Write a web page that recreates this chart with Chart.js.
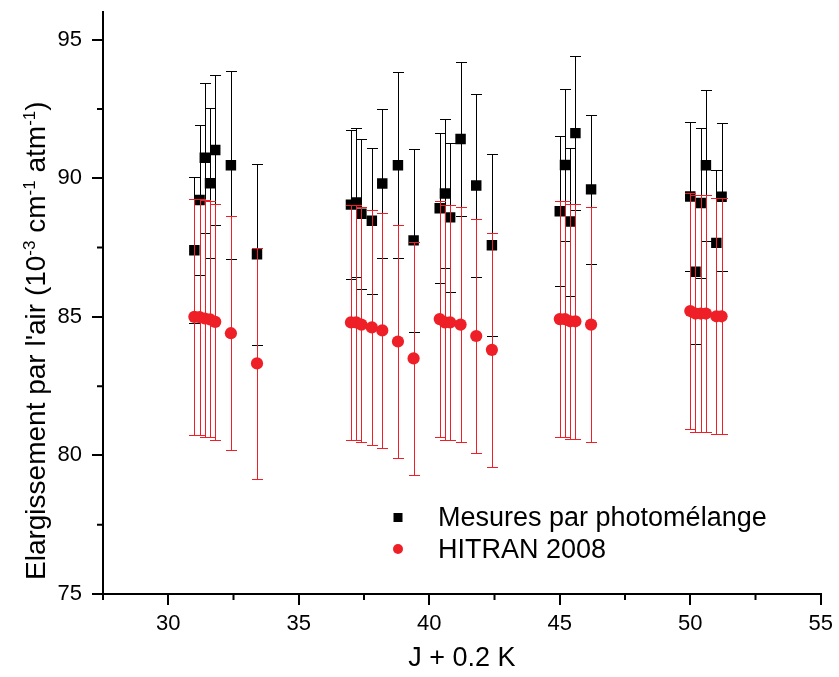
<!DOCTYPE html>
<html>
<head>
<meta charset="utf-8">
<script src="https://cdn.jsdelivr.net/npm/chart.js@4/dist/chart.umd.min.js"></script>
<style>
  html, body { margin: 0; padding: 0; background: #fff; }
  #wrap { width: 839px; height: 677px; }
</style>
</head>
<body>
<div id="wrap"><canvas id="c" width="839" height="677"></canvas></div>
<script>
// ---- Data ----
const jValues = [31.0, 31.2, 31.4, 31.6, 31.8, 32.4, 33.4,
                 37.0, 37.2, 37.4, 37.8, 38.2, 38.8, 39.4,
                 40.4, 40.6, 40.8, 41.2, 41.8, 42.4,
                 45.0, 45.2, 45.4, 45.6, 46.2,
                 50.0, 50.2, 50.4, 50.6, 51.0, 51.2];
const mesures = [87.40, 89.22, 90.74, 89.82, 91.02, 90.47, 87.26,
                 89.05, 89.13, 88.72, 88.47, 89.81, 90.47, 87.76,
                 88.92, 89.45, 88.59, 91.42, 89.74, 87.58,
                 88.81, 90.48, 88.44, 91.63, 89.60,
                 89.34, 86.63, 89.11, 90.47, 87.67, 89.33];
const mesuresErr = [2.63, 2.70, 2.70, 2.70, 2.70, 3.39, 3.27,
                    2.70, 2.70, 2.70, 2.64, 2.69, 3.36, 3.30,
                    2.70, 2.69, 2.69, 2.77, 3.31, 3.28,
                    2.70, 2.75, 2.67, 2.79, 2.68,
                    2.68, 2.61, 2.70, 2.72, 2.62, 2.67];
const hitran = [85.00, 84.99, 84.94, 84.91, 84.82, 84.41, 83.32,
                84.80, 84.80, 84.72, 84.62, 84.51, 84.11, 83.50,
                84.92, 84.80, 84.80, 84.72, 84.31, 83.81,
                84.92, 84.92, 84.84, 84.84, 84.72,
                85.21, 85.12, 85.12, 85.12, 85.02, 85.02];
const hitranErr = [4.27, 4.27, 4.26, 4.26, 4.25, 4.23, 4.18,
                   4.24, 4.24, 4.24, 4.24, 4.24, 4.22, 4.20,
                   4.26, 4.24, 4.24, 4.24, 4.23, 4.21,
                   4.26, 4.26, 4.25, 4.25, 4.24,
                   4.27, 4.27, 4.27, 4.27, 4.26, 4.26];
const seriesNames = ['Mesures par photomélange', 'HITRAN 2008'];
const xMajorTicks = [30, 35, 40, 45, 50, 55];
const xMinorTicks = [27.5, 32.5, 37.5, 42.5, 47.5, 52.5];
const yMajorTicks = [75, 80, 85, 90, 95];
const yMinorTicks = [77.5, 82.5, 87.5, 92.5];
const xTitle = 'J + 0.2 K';
// y title pieces: [text, isSuperscript]
const yTitleParts = [["Elargissement par l'air (10", false], ["-3", true], [" cm", false], ["-1", true], [" atm", false], ["-1", true], [")", false]];

const BLACK = '#000000';
const RED = '#ee1f26';
const FONT = '"Liberation Sans", Arial, "DejaVu Sans", sans-serif';

function toPoints(xs, ys) { return xs.map((x, i) => ({ x: x, y: ys[i] })); }

// Error bars drawn through the chart scales, right before each dataset's markers
const errorBarPlugin = {
  id: 'errorBars',
  beforeDatasetDraw(chart, args) {
    const ds = chart.data.datasets[args.index];
    if (!ds.errors) return;
    const ctx = chart.ctx, xs = chart.scales.x, ys = chart.scales.y;
    const cap = 5.5;
    ctx.save();
    ctx.strokeStyle = ds.errorColor;
    ctx.lineWidth = 1;
    ds.data.forEach((p, i) => {
      const e = ds.errors[i];
      const px = Math.round(xs.getPixelForValue(p.x)) + 0.5;
      const yTop = Math.round(ys.getPixelForValue(p.y + e)) + 0.5;
      const yBot = Math.round(ys.getPixelForValue(p.y - e)) + 0.5;
      ctx.beginPath();
      ctx.moveTo(px, yTop); ctx.lineTo(px, yBot);
      ctx.moveTo(px - cap, yTop); ctx.lineTo(px + cap, yTop);
      ctx.moveTo(px - cap, yBot); ctx.lineTo(px + cap, yBot);
      ctx.stroke();
    });
    ctx.restore();
  }
};

// Minor tick marks (short) drawn from the scales
const minorTickPlugin = {
  id: 'minorTicks',
  afterDraw(chart) {
    const ctx = chart.ctx, xs = chart.scales.x, ys = chart.scales.y;
    const area = chart.chartArea;
    ctx.save();
    ctx.strokeStyle = BLACK;
    ctx.lineWidth = 2;
    ctx.beginPath();
    xMinorTicks.forEach(v => {
      const px = xs.getPixelForValue(v);
      ctx.moveTo(px, area.bottom); ctx.lineTo(px, area.bottom + 6);
    });
    yMinorTicks.forEach(v => {
      const py = ys.getPixelForValue(v);
      ctx.moveTo(area.left, py); ctx.lineTo(area.left - 6, py);
    });
    ctx.stroke();
    ctx.restore();
  }
};

// Y axis title with true superscripts
const yTitlePlugin = {
  id: 'yTitleRich',
  afterDraw(chart) {
    const ctx = chart.ctx;
    ctx.save();
    ctx.translate(45, 580);
    ctx.rotate(-Math.PI / 2);
    ctx.fillStyle = BLACK;
    ctx.textAlign = 'left';
    ctx.textBaseline = 'alphabetic';
    let x = 0;
    yTitleParts.forEach(([t, sup]) => {
      ctx.font = (sup ? '17px ' : '28px ') + FONT;
      ctx.fillText(t, x, sup ? -10 : 0);
      x += ctx.measureText(t).width;
    });
    ctx.restore();
  }
};

// Legend inside the plot area
const legendPlugin = {
  id: 'insideLegend',
  afterDraw(chart) {
    const ctx = chart.ctx;
    ctx.save();
    ctx.font = '27px ' + FONT;
    ctx.textBaseline = 'alphabetic';
    ctx.textAlign = 'left';
    const items = chart.data.datasets;
    const markerX = 398, textX = 438;
    const rows = [517.5, 549];
    items.forEach((ds, i) => {
      const y = rows[i];
      ctx.fillStyle = ds.backgroundColor;
      if (ds.pointStyle === 'rect') {
        ctx.fillRect(markerX - 4.5, y - 4.5, 9, 9);
      } else {
        ctx.beginPath(); ctx.arc(markerX, y, 5, 0, Math.PI * 2); ctx.fill();
      }
      ctx.fillStyle = BLACK;
      ctx.fillText(ds.label, textX, y + 8.5);
    });
    ctx.restore();
  }
};

function isMajor(list, v) { return list.some(m => Math.abs(m - v) < 1e-6); }

const chart = new Chart(document.getElementById('c'), {
  type: 'scatter',
  data: {
    datasets: [
      {
        label: seriesNames[0],
        data: toPoints(jValues, mesures),
        errors: mesuresErr,
        errorColor: BLACK,
        pointStyle: 'rect',
        pointRadius: 7.4,
        backgroundColor: BLACK,
        borderColor: BLACK,
        borderWidth: 0,
        order: 2
      },
      {
        label: seriesNames[1],
        data: toPoints(jValues, hitran),
        errors: hitranErr,
        errorColor: RED,
        pointStyle: 'circle',
        pointRadius: 6.1,
        backgroundColor: RED,
        borderColor: RED,
        borderWidth: 0,
        order: 1
      }
    ]
  },
  options: {
    responsive: false,
    animation: false,
    devicePixelRatio: 1,
    events: [],
    layout: { padding: { left: 0, right: 16, top: 0, bottom: 0 } },
    plugins: { legend: { display: false }, tooltip: { enabled: false } },
    scales: {
      x: {
        type: 'linear',
        min: 27.5, max: 55,
        afterBuildTicks(scale) {
          scale.ticks = xMajorTicks.concat(xMinorTicks).sort((a, b) => a - b).map(v => ({ value: v }));
        },
        afterFit(scale) { scale.height = 83; },
        ticks: {
          color: BLACK,
          font: { family: FONT, size: 22 },
          padding: 6,
          maxRotation: 0,
          autoSkip: false,
          callback: v => isMajor(xMajorTicks, v) ? String(v) : ''
        },
        grid: {
          drawOnChartArea: false,
          drawTicks: true,
          tickLength: 11,
          lineWidth: 2,
          color: c => (c.tick && isMajor(xMajorTicks, c.tick.value)) ? BLACK : 'rgba(0,0,0,0)'
        },
        border: { display: true, color: BLACK, width: 2 },
        title: {
          display: true, text: xTitle, color: BLACK,
          font: { family: FONT, size: 27 },
          padding: { top: 0, bottom: 2 }
        }
      },
      y: {
        type: 'linear',
        min: 75, max: 96,
        afterBuildTicks(scale) {
          scale.ticks = yMajorTicks.concat(yMinorTicks).sort((a, b) => a - b).map(v => ({ value: v }));
        },
        afterFit(scale) { scale.width = 103; scale.paddingTop = 12; scale.paddingBottom = 0; },
        ticks: {
          color: BLACK,
          font: { family: FONT, size: 22 },
          padding: 10,
          autoSkip: false,
          callback: v => isMajor(yMajorTicks, v) ? String(v) : ''
        },
        grid: {
          drawOnChartArea: false,
          drawTicks: true,
          tickLength: 11,
          lineWidth: 2,
          color: c => (c.tick && isMajor(yMajorTicks, c.tick.value)) ? BLACK : 'rgba(0,0,0,0)'
        },
        border: { display: true, color: BLACK, width: 2 },
        title: { display: false }
      }
    }
  },
  plugins: [errorBarPlugin, minorTickPlugin, yTitlePlugin, legendPlugin]
});
</script>
</body>
</html>
